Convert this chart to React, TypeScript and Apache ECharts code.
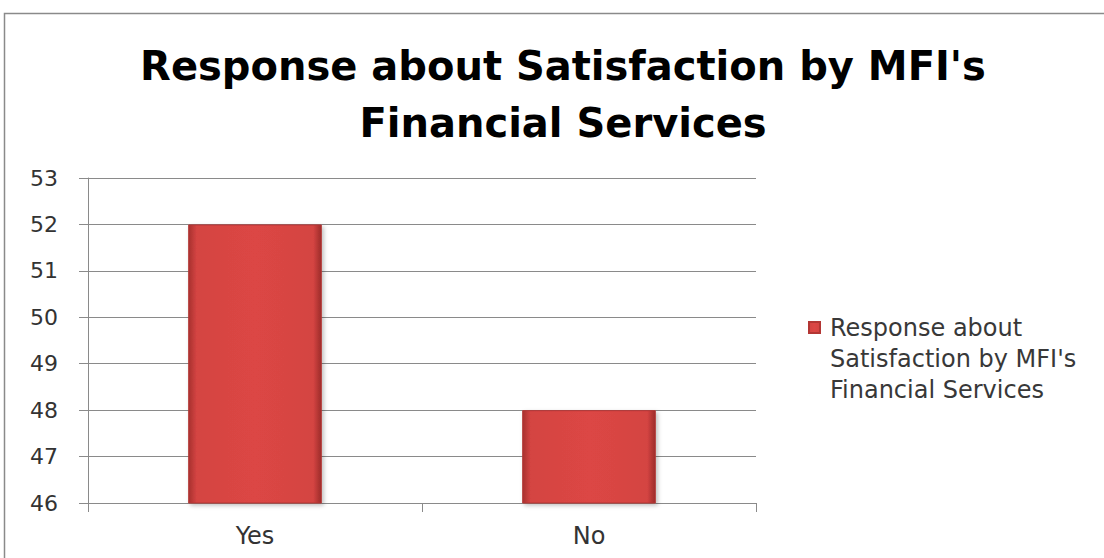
import React, { useEffect, useRef } from "react";
import * as echarts from "echarts";

const categories = ["Yes", "No"];
const responses = [52, 48];
const seriesName = "Response about Satisfaction by MFI's Financial Services";
const titleText = "Response about Satisfaction by MFI's\nFinancial Services";
const yMin = 46;
const yMax = 53;

const FONT = "'DejaVu Sans', sans-serif";

export default function App() {
  const ref = useRef<HTMLDivElement>(null);
  useEffect(() => {
    const chart = echarts.init(ref.current!, null, { renderer: "svg" });
    chart.setOption({
      animation: false,
      backgroundColor: "#ffffff",
      title: {
        text: titleText,
        left: 558,
        textAlign: "center",
        top: 32,
        textStyle: {
          fontFamily: FONT,
          fontWeight: "bold",
          fontSize: 40,
          lineHeight: 57,
          color: "#000000",
        },
      },
      graphic: [
        {
          type: "polyline",
          shape: { points: [[4.5, 558], [4.5, 13.5], [1104, 13.5]] },
          style: { stroke: "#8a8a8a", lineWidth: 1.5, fill: "none" },
        },
      ],
      legend: {
        left: 808,
        top: 312,
        padding: 0,
        orient: "vertical",
        itemWidth: 11,
        itemHeight: 73,
        itemGap: 10,
        icon: "path://M0,0h11v11h-11zM0,73h0.01",
        formatter: () => "Response about\nSatisfaction by MFI's\nFinancial Services",
        textStyle: {
          fontFamily: FONT,
          fontSize: 24,
          lineHeight: 31,
          color: "#383838",
          padding: [0, 0, 0, 5],
        },
      },
      grid: { left: 88, right: 348, top: 178, bottom: 55 },
      xAxis: {
        type: "category",
        data: categories,
        axisLine: { lineStyle: { color: "#8a8a8a", width: 1 } },
        axisTick: { show: true, length: 9, lineStyle: { color: "#8a8a8a" } },
        axisLabel: {
          margin: 21,
          fontFamily: FONT,
          fontSize: 24,
          color: "#333333",
        },
      },
      yAxis: {
        type: "value",
        min: yMin,
        max: yMax,
        interval: 1,
        axisLine: { show: true, lineStyle: { color: "#8a8a8a", width: 1 } },
        axisTick: { show: true, length: 9, lineStyle: { color: "#8a8a8a" } },
        splitLine: { lineStyle: { color: "#8a8a8a", width: 1 } },
        axisLabel: {
          margin: 30,
          fontFamily: FONT,
          fontSize: 22,
          color: "#333333",
        },
      },
      series: [
        {
          name: seriesName,
          type: "bar",
          data: responses,
          barWidth: "40%",
          itemStyle: {
            color: new echarts.graphic.LinearGradient(0, 0, 1, 0, [
              { offset: 0, color: "#a8302f" },
              { offset: 0.06, color: "#d44442" },
              { offset: 0.5, color: "#dc4644" },
              { offset: 0.94, color: "#d44442" },
              { offset: 1, color: "#9c2b2a" },
            ]),
            borderColor: "#b33634",
            borderWidth: 1,
            shadowColor: "rgba(0,0,0,0.25)",
            shadowBlur: 4,
            shadowOffsetX: 2,
            shadowOffsetY: 2,
          },
        },
      ],
    });
    return () => chart.dispose();
  }, []);
  return <div ref={ref} style={{ width: 1104, height: 558, position: "absolute", left: 0, top: 0 }} />;
}
